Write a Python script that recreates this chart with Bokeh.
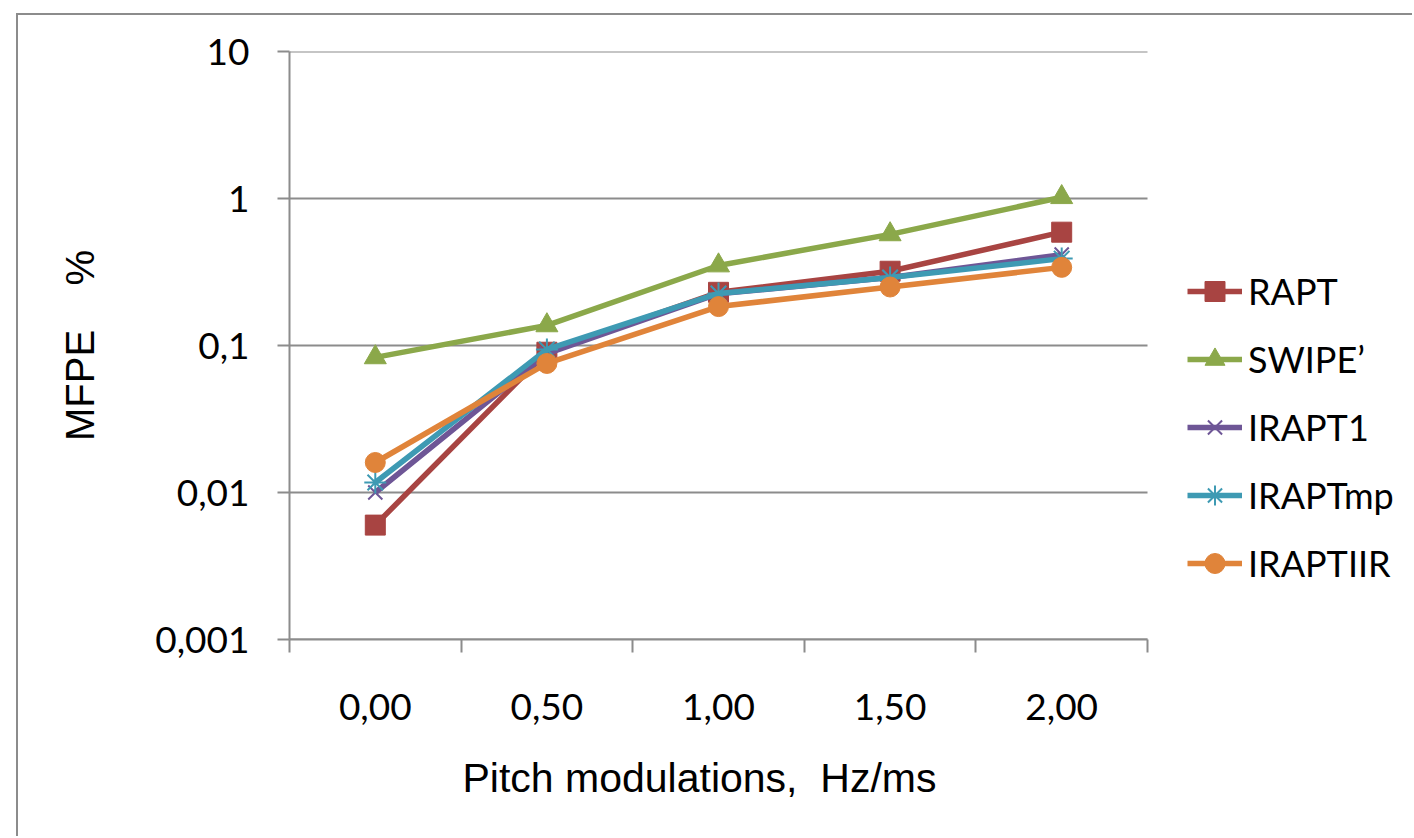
from bokeh.plotting import figure
from bokeh.models import FixedTicker, Range1d, Legend, LegendItem, Title
from bokeh.embed import file_html
from bokeh.resources import INLINE

# ---- data ----
x_labels = ["0,00", "0,50", "1,00", "1,50", "2,00"]
rapt = [0.006, 0.090, 0.230, 0.320, 0.590]
swipe = [0.083, 0.137, 0.350, 0.570, 1.020]
irapt1 = [0.0100, 0.088, 0.225, 0.290, 0.415]
iraptmp = [0.0117, 0.094, 0.226, 0.290, 0.390]
iraptiir = [0.0160, 0.0755, 0.184, 0.250, 0.340]
series_names = ["RAPT", "SWIPE\u2019", "IRAPT1", "IRAPTmp", "IRAPTIIR"]
y_ticks = [0.001, 0.01, 0.1, 1, 10]
y_labels = ["0,001", "0,01", "0,1", "1", "10"]
x_title = "Pitch modulations,\u00a0 Hz/ms"
y_title = "MFPE\u00a0\u00a0\u00a0 %"

series = [rapt, swipe, irapt1, iraptmp, iraptiir]
colors = ["#A84442", "#8BA84A", "#6E5696", "#3E9AB3", "#E0843A"]
markers = ["square", "triangle", "x", "asterisk", "circle"]
msizes = [20, 22, 20, 22, 20]

n = len(x_labels)
xs = [i + 0.5 for i in range(n)]

grey = "#8c8c8c"
tick_font = "Lato"

W, H = 1396, 823
left_b, top_b, bottom_b = 271, 36, 199
plot_w = 858  # width of the category area in px
frame_w = W - left_b

p = figure(width=W, height=H, x_range=Range1d(0, n * frame_w / plot_w),
           y_range=Range1d(y_ticks[0], y_ticks[-1]), y_axis_type="log",
           output_backend="svg", toolbar_location=None,
           min_border_left=left_b, min_border_right=0,
           min_border_top=top_b, min_border_bottom=bottom_b,
           margin=(13, 0, 0, 16),
           styles={"border-left": "2px solid #8c8c8c",
                   "border-top": "2px solid #8c8c8c"})
p.outline_line_color = None
p.background_fill_color = "white"
p.border_fill_color = "white"

# horizontal gridlines limited to the category area
p.xgrid.visible = False
p.ygrid.visible = False
p.segment(x0=[0] * len(y_ticks), x1=[n] * len(y_ticks), y0=y_ticks, y1=y_ticks,
          line_color=grey, line_width=2)

# x axis
xax = p.xaxis[0]
xax.bounds = (0, n)
xax.ticker = FixedTicker(ticks=xs, minor_ticks=list(range(n + 1)))
xax.major_label_overrides = {x: lab for x, lab in zip(xs, x_labels)}
xax.major_tick_out = 0
xax.major_tick_in = 0
xax.minor_tick_out = 13
xax.minor_tick_in = 0
xax.minor_tick_line_color = grey
xax.minor_tick_line_width = 2
xax.axis_line_color = grey
xax.axis_line_width = 2
xax.major_label_text_font = tick_font
xax.major_label_text_font_size = "37px"
xax.major_label_text_color = "black"
xax.major_label_standoff = 41

# x axis title, placed under the category area
p.add_layout(Title(text=x_title, align="left", offset=173, vertical_align="top",
                   standoff=64, text_font="Liberation Sans", text_font_size="41px",
                   text_font_style="normal", text_color="black"), "below")

# y axis
yax = p.yaxis[0]
yax.ticker = FixedTicker(ticks=y_ticks, minor_ticks=[])
yax.major_label_overrides = {t: lab for t, lab in zip(y_ticks, y_labels)}
yax.major_tick_out = 12
yax.major_tick_in = 0
yax.minor_tick_out = 0
yax.minor_tick_in = 0
yax.major_tick_line_color = grey
yax.major_tick_line_width = 2
yax.axis_line_color = grey
yax.axis_line_width = 2
yax.major_label_text_font = tick_font
yax.major_label_text_font_size = "37px"
yax.major_label_text_color = "black"
yax.major_label_standoff = 28
yax.axis_label = y_title
yax.axis_label_text_font = "Liberation Sans"
yax.axis_label_text_font_size = "40px"
yax.axis_label_text_font_style = "normal"
yax.axis_label_text_color = "black"
yax.axis_label_standoff = 50

items = []
for name, ys, c, m, s in zip(series_names, series, colors, markers, msizes):
    lr = p.line(xs, ys, line_color=c, line_width=5.5)
    if m in ("x", "asterisk"):
        sr = p.scatter(xs, ys, marker=m, size=s, line_color=c, line_width=2)
    else:
        sr = p.scatter(xs, ys, marker=m, size=s, fill_color=c, line_color=c, line_width=1)
    items.append(LegendItem(label=name, renderers=[lr, sr]))

legend = Legend(items=items, location=(plot_w + 40, 51), padding=0, margin=0,
                spacing=18, glyph_width=55, glyph_height=50, label_height=50,
                label_standoff=6, border_line_color=None, background_fill_alpha=0,
                label_text_font=tick_font, label_text_font_size="36px",
                label_text_color="black")
p.add_layout(legend, "center")

open("out.html", "w").write(file_html(p, INLINE))
